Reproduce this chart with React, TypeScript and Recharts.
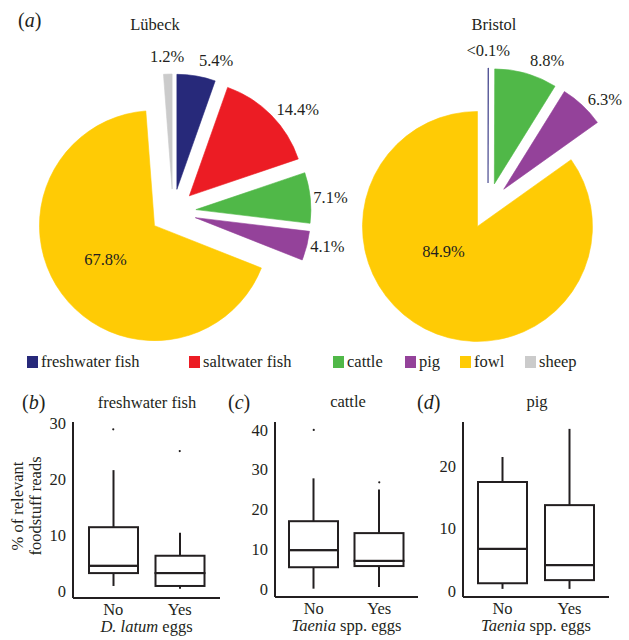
import React from 'react';
import { PieChart, Pie, Sector, ComposedChart, Bar, Scatter, XAxis, YAxis } from 'recharts';

const FONT = '"Liberation Serif", "Times New Roman", serif';
const INK = '#231f20';
const FS = 16.5;

// (a) share of foodstuff reads
const foodNames = ['freshwater fish', 'saltwater fish', 'cattle', 'pig', 'fowl', 'sheep'];
const foodColors = ['#27297a', '#ec1c24', '#50b848', '#94429a', '#ffcb05', '#cbcbcb'];
const lubeckShare = [5.4, 14.4, 7.1, 4.1, 67.8, 1.2];
const lubeckText = ['5.4%', '14.4%', '7.1%', '4.1%', '67.8%', '1.2%'];
const bristolShare = [0.05, 0, 8.8, 6.3, 84.9, 0];
const bristolText = ['<0.1%', '', '8.8%', '6.3%', '84.9%', ''];

// (b)-(d) boxplots
const groups = ['No', 'Yes'];
const fishMin = [0.9, 0.4];
const fishQ1 = [3.2, 0.9];
const fishMed = [4.5, 3.2];
const fishQ3 = [11.4, 6.3];
const fishMax = [21.6, 10.4];
const fishOut = [28.9, 25.0];
const cattleMin = [0, 0.4];
const cattleQ1 = [5.4, 5.7];
const cattleMed = [9.7, 7.0];
const cattleQ3 = [17.0, 14.0];
const cattleMax = [27.8, 25.0];
const cattleOut = [40.0, 26.8];
const pigMin = [0.3, 0.3];
const pigQ1 = [1.2, 1.7];
const pigMed = [6.7, 4.1];
const pigQ3 = [17.4, 13.7];
const pigMax = [21.4, 25.9];
const pigOut: (number | null)[] = [null, null];

const legendLeft = [27, 189, 333, 405, 460, 525];

const pieRows = (share: number[], text: string[]) =>
  foodNames
    .map((name, i) => ({ name, value: share[i], pct: text[i], tint: foodColors[i] }))
    .filter((r) => r.value > 0);

const boxRows = (lo: number[], q1: number[], med: number[], q3: number[], hi: number[]) =>
  groups.map((name, i) => ({
    name,
    base: lo[i],
    lowWhisker: q1[i] - lo[i],
    lowBox: med[i] - q1[i],
    highBox: q3[i] - med[i],
    highWhisker: hi[i] - q3[i],
  }));

const outlierRows = (out: (number | null)[]) =>
  groups.map((name, i) => ({ name, out: out[i] })).filter((r) => r.out != null);

const RAD = Math.PI / 180;
const EXPLODE = 23;

// draws each slice pushed out along its bisector, plus its % label
function sliceRenderer(insideDx: number, insideDy: number) {
  return (p: any) => {
    const row = p.payload ?? p;
    const { cx, cy, outerRadius, startAngle, endAngle } = p;
    const mid = (startAngle + endAngle) / 2;
    const cos = Math.cos(-mid * RAD);
    const sin = Math.sin(-mid * RAD);
    const ox = cx + EXPLODE * cos;
    const oy = cy + EXPLODE * sin;
    const isBig = row.value > 50;
    let tx, ty, anchor;
    if (isBig) {
      tx = ox + insideDx;
      ty = oy + insideDy;
      anchor = 'middle';
    } else {
      const r = outerRadius + 18 - 15 * Math.abs(cos);
      tx = ox + r * cos;
      ty = oy + r * sin;
      anchor = cos > 0.15 ? 'start' : cos < -0.15 ? 'end' : 'middle';
    }
    return (
      <g>
        <Sector
          cx={ox}
          cy={oy}
          innerRadius={0}
          outerRadius={outerRadius}
          startAngle={startAngle}
          endAngle={endAngle}
          fill={row.tint}
          stroke={row.tint}
          strokeWidth={0.6}
        />
        <text x={tx} y={ty} textAnchor={anchor} dominantBaseline="central" fontSize={FS} fontFamily={FONT} fill={INK}>
          {row.pct}
        </text>
      </g>
    );
  };
}

const Whisker = (p: any) => {
  const x = p.x + p.width / 2;
  return <line x1={x} x2={x} y1={p.y} y2={p.y + p.height} stroke={INK} strokeWidth={2} />;
};
const BoxPart = (p: any) => (
  <rect x={p.x} y={p.y} width={p.width} height={p.height} fill="none" stroke={INK} strokeWidth={2} />
);
const Outlier = (p: any) => <circle cx={p.cx} cy={p.cy} r={1.1} fill={INK} />;

const tickStyle = { fontSize: FS, fontFamily: FONT, fill: INK };

const eggsLabel = (italic: string, rest: string) => (p: any) => {
  const vb = p.viewBox || { x: 0, y: 0, width: 0, height: 0 };
  return (
    <text x={vb.x + vb.width / 2} y={vb.y + 34} textAnchor="middle" fontSize={FS} fontFamily={FONT} fill={INK}>
      <tspan fontStyle="italic">{italic}</tspan>
      <tspan>{rest}</tspan>
    </text>
  );
};

const readsLabel = (p: any) => {
  const vb = p.viewBox || { x: 0, y: 42, width: 73, height: 176 };
  const cy = vb.y + vb.height / 2 - 4;
  return (
    <g fontSize={FS} fontFamily={FONT} fill={INK}>
      <text x={vb.x + 22.5} y={cy} textAnchor="middle" transform={`rotate(-90, ${vb.x + 22.5}, ${cy})`}>
        % of relevant
      </text>
      <text x={vb.x + 40.5} y={cy} textAnchor="middle" transform={`rotate(-90, ${vb.x + 40.5}, ${cy})`}>
        foodstuff reads
      </text>
    </g>
  );
};

interface BoxProps {
  rows: any[];
  outliers: any[];
  domain: [number, number];
  ticks: number[];
  left: number;
  width: number;
  axisWidth: number;
  right: number;
  bottom: number;
  pad: number;
  xTitle: any;
  yTitle?: any;
}

function BoxPanel({ rows, outliers, domain, ticks, left, width, axisWidth, right, bottom, pad, xTitle, yTitle }: BoxProps) {
  return (
    <div style={{ position: 'absolute', left, top: 380 }}>
      <ComposedChart width={width} height={260} data={rows} margin={{ top: 42, right, bottom, left: 0 }}>
        <XAxis
          dataKey="name"
          type="category"
          allowDuplicatedCategory={false}
          height={40}
          interval={0}
          padding={{ left: pad, right: pad }}
          axisLine={{ stroke: INK, strokeWidth: 2 }}
          tickLine={false}
          tickSize={0}
          tickMargin={5}
          tick={tickStyle}
          label={{ content: xTitle }}
        />
        <YAxis
          type="number"
          domain={domain}
          ticks={ticks}
          allowDataOverflow
          width={axisWidth}
          axisLine={{ stroke: INK, strokeWidth: 2 }}
          tickLine={false}
          tickSize={0}
          tickMargin={7}
          tick={tickStyle}
          label={yTitle ? { content: yTitle } : undefined}
        />
        <Bar dataKey="base" stackId="box" barSize={49} fill="none" shape={() => <g />} isAnimationActive={false} />
        <Bar dataKey="lowWhisker" stackId="box" barSize={49} shape={Whisker} isAnimationActive={false} />
        <Bar dataKey="lowBox" stackId="box" barSize={49} shape={BoxPart} isAnimationActive={false} />
        <Bar dataKey="highBox" stackId="box" barSize={49} shape={BoxPart} isAnimationActive={false} />
        <Bar dataKey="highWhisker" stackId="box" barSize={49} shape={Whisker} isAnimationActive={false} />
        {outliers.length > 0 && (
          <Scatter data={outliers} dataKey="out" shape={Outlier} isAnimationActive={false} />
        )}
      </ComposedChart>
    </div>
  );
}

function PanelTag({ x, y, letter }: { x: number; y: number; letter: string }) {
  return (
    <text x={x} y={y} fontSize={20} fontFamily={FONT} fill={INK}>
      (<tspan fontStyle="italic">{letter}</tspan>)
    </text>
  );
}

export default function App() {
  const lubeck = pieRows(lubeckShare, lubeckText);
  const bristol = pieRows(bristolShare, bristolText);

  return (
    <div style={{ position: 'absolute', left: 0, top: 0, width: 629, height: 640, background: '#fff', fontFamily: FONT }}>
      <div style={{ position: 'absolute', left: 0, top: 0 }}>
        <PieChart width={629} height={346} margin={{ top: 0, right: 0, bottom: 0, left: 0 }}>
          <Pie
            data={lubeck}
            dataKey="value"
            nameKey="name"
            cx={173}
            cy={212}
            outerRadius={115}
            startAngle={90}
            endAngle={-270}
            fill="transparent"
            stroke="none"
            label={sliceRenderer(-49, 34)}
            labelLine={false}
            isAnimationActive={false}
          />
          <Pie
            data={bristol}
            dataKey="value"
            nameKey="name"
            cx={488}
            cy={206}
            outerRadius={115}
            startAngle={90}
            endAngle={-270}
            fill="transparent"
            stroke="none"
            label={sliceRenderer(-34, 25)}
            labelLine={false}
            isAnimationActive={false}
          />
        </PieChart>
      </div>

      <BoxPanel
        rows={boxRows(fishMin, fishQ1, fishMed, fishQ3, fishMax)}
        outliers={outlierRows(fishOut)}
        domain={[-1.25, 30.2]}
        ticks={[0, 10, 20, 30]}
        left={0}
        width={230}
        axisWidth={73}
        right={10}
        bottom={2}
        pad={7}
        xTitle={eggsLabel('D. latum', ' eggs')}
        yTitle={readsLabel}
      />
      <BoxPanel
        rows={boxRows(cattleMin, cattleQ1, cattleMed, cattleQ3, cattleMax)}
        outliers={outlierRows(cattleOut)}
        domain={[-2.1, 42]}
        ticks={[0, 10, 20, 30, 40]}
        left={230}
        width={190}
        axisWidth={45}
        right={2}
        bottom={3}
        pad={6}
        xTitle={eggsLabel('Taenia', ' spp. eggs')}
      />
      <BoxPanel
        rows={boxRows(pigMin, pigQ1, pigMed, pigQ3, pigMax)}
        outliers={outlierRows(pigOut)}
        domain={[-1, 27]}
        ticks={[0, 10, 20]}
        left={420}
        width={209}
        axisWidth={43}
        right={20}
        bottom={3}
        pad={6}
        xTitle={eggsLabel('Taenia', ' spp. eggs')}
      />

      <svg width={629} height={640} style={{ position: 'absolute', left: 0, top: 0, pointerEvents: 'none' }}>
        <PanelTag x={18} y={27} letter="a" />
        <text x={155} y={30} textAnchor="middle" fontSize={FS} fontFamily={FONT} fill={INK}>Lübeck</text>
        <text x={494} y={30} textAnchor="middle" fontSize={FS} fontFamily={FONT} fill={INK}>Bristol</text>

        {foodNames.map((name, i) => (
          <g key={name}>
            <rect x={legendLeft[i]} y={356} width={11} height={12} fill={foodColors[i]} />
            <text x={legendLeft[i] + 14} y={367} fontSize={FS} fontFamily={FONT} fill={INK}>{name}</text>
          </g>
        ))}

        <PanelTag x={22} y={409} letter="b" />
        <text x={147} y={408} textAnchor="middle" fontSize={FS} fontFamily={FONT} fill={INK}>freshwater fish</text>
        <PanelTag x={228} y={409} letter="c" />
        <text x={348} y={407} textAnchor="middle" fontSize={FS} fontFamily={FONT} fill={INK}>cattle</text>
        <PanelTag x={417} y={409} letter="d" />
        <text x={537} y={407} textAnchor="middle" fontSize={FS} fontFamily={FONT} fill={INK}>pig</text>
      </svg>
    </div>
  );
}
